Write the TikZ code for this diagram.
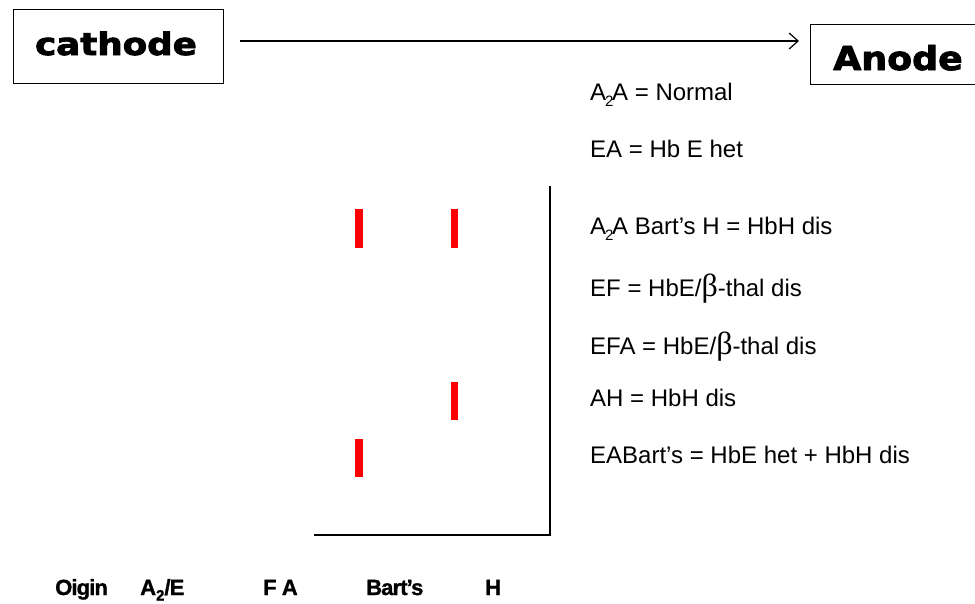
\documentclass[tikz,border=0pt]{standalone}
\usepackage{fontspec}
\setmainfont{Liberation Sans}
\newfontfamily\heavy[FakeBold=2.5]{DejaVu Sans Bold}
\newfontfamily\lanefont[FakeBold=1.2,LetterSpace=-4]{Liberation Sans Bold}
\newfontfamily\betafont{Liberation Serif}
\usetikzlibrary{arrows.meta}
\tikzset{
  boxed/.style={draw,line width=1pt,inner sep=0pt},
  keytxt/.style={anchor=base west,inner sep=0pt,font=\fontsize{24}{24}\selectfont},
  lanetxt/.style={anchor=base west,inner sep=0pt,font=\lanefont\fontsize{22}{22}\selectfont},
  band/.style={fill=red,draw=none},
  axis/.style={line width=2pt,line cap=rect}
}
\newcommand{\bet}{{\betafont\fontsize{32}{32}\selectfont β}}
\newcommand{\subtwo}{\raisebox{-0.28em}{\fontsize{15}{15}\selectfont 2}}
\begin{document}
\begin{tikzpicture}[x=1pt,y=-1pt]
\useasboundingbox (0,0) rectangle (975,603);
\begin{scope}
\clip (0,0) rectangle (975,603);
\node[boxed,minimum width=210pt,minimum height=74pt] (cathode) at (118,46) {};
\node[anchor=base,inner sep=0pt,font=\heavy\fontsize{31}{31}\selectfont] (cathodetxt) at (116,55) {\scalebox{1.15}[1]{cathode}};
\node[boxed,minimum width=180pt,minimum height=60pt] (anode) at (900,54) {};
\node[anchor=base,inner sep=0pt,font=\heavy\fontsize{33}{33}\selectfont] (anodetxt) at (898,70) {\scalebox{1.1}[1]{Anode}};
\end{scope}
\coordinate (arrs) at (240,41);
\coordinate (arre) at (799,41);
\draw[line width=1.2pt,-{Straight Barb[length=9pt,width=16pt]}] (arrs) -- (arre);

\node[keytxt] (k1) at (590,100) {A\kern-0.05em\subtwo\kern-0.05em A = Normal};
\node[keytxt] (k2) at (590,157) {EA = Hb E het};
\node[keytxt] (k3) at (590,234) {A\kern-0.05em\subtwo\kern-0.05em A Bart’s H = HbH dis};
\node[keytxt] (k4) at (590,296) {EF = HbE/\bet-thal dis};
\node[keytxt] (k5) at (590,354) {EFA = HbE/\bet-thal dis};
\node[keytxt] (k6) at (590,406) {AH = HbH dis};
\node[keytxt] (k7) at (590,463) {EABart’s = HbE het + HbH dis};

\coordinate (ytop) at (550,187);
\coordinate (corner) at (550,535);
\coordinate (xleft) at (315,535);
\draw[axis] (ytop) -- (corner) -- (xleft);

\fill[band] (355,209) rectangle (363,248);
\fill[band] (451,209) rectangle (458,248);
\fill[band] (451,382) rectangle (458,420);
\fill[band] (355,439) rectangle (363,477);

\node[lanetxt] (l1) at (55,595) {Oigin};
\node[lanetxt] (l2) at (140,595) {A\raisebox{-0.25em}{\fontsize{15}{15}\selectfont 2}/E};
\node[lanetxt] (l3) at (263,595) {F A};
\node[lanetxt] (l4) at (366,595) {Bart’s};
\node[lanetxt] (l5) at (485,595) {H};
\end{tikzpicture}
\end{document}
